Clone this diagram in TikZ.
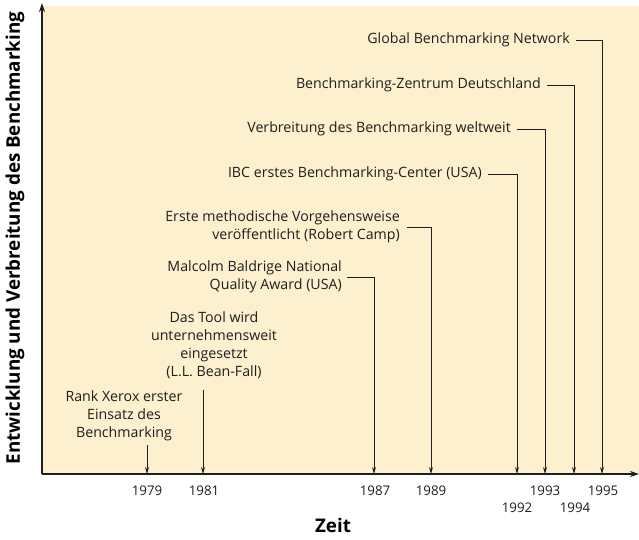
\documentclass[tikz,border=0pt]{standalone}
\usepackage{fontspec}
\setmainfont{Open Sans}
\usetikzlibrary{arrows.meta}
\definecolor{bgcream}{RGB}{253,240,207}
\definecolor{ink}{RGB}{30,30,30}
\tikzset{
  lbl/.style={inner sep=0pt, font=\fontsize{14.2}{18}\selectfont, text=ink},
  yr/.style={inner sep=0pt, font=\fontsize{13.3}{16}\selectfont, text=ink},
  axis/.style={draw=ink, line width=1.3pt, -{Stealth[length=9pt,width=6pt]}},
  conn/.style={draw=ink, line width=0.9pt, -{Stealth[length=7pt,width=4pt]}},
  ttl/.style={inner sep=0pt, font=\fontsize{18.8}{20}\selectfont\bfseries}
}
\begin{document}
\begin{tikzpicture}[x=1pt,y=-1pt]
\useasboundingbox (0,0) rectangle (639,539);
\fill[bgcream] (42,6) rectangle (639,474);
\coordinate (O) at (42,474);
\coordinate (XE) at (639,474);
\coordinate (YE) at (42,3);
\draw[axis] (O) -- (XE);
\draw[axis] (O) -- (YE);
\node[ttl, rotate=90] (ylab) at (15,238) {Entwicklung und Verbreitung des Benchmarking};
\node[ttl] (xlab) at (333,525) {Zeit};
% year coordinates
\foreach \n/\x in {a/147,b/203,c/374,d/431,e/517,f/545,g/574,h/602}{
  \coordinate (t\n) at (\x,474);
}
\node[yr] (y1979) at (147,491) {1979};
\node[yr] (y1981) at (204,491) {1981};
\node[yr] (y1987) at (375,491) {1987};
\node[yr] (y1989) at (431,491) {1989};
\node[yr] (y1993) at (545,491) {1993};
\node[yr] (y1995) at (603,491) {1995};
\node[yr] (y1992) at (517,508) {1992};
\node[yr] (y1994) at (575,508) {1994};
% labels
\node[lbl, anchor=east] (l8) at (570,40) {Global Benchmarking Network};
\node[lbl, anchor=east] (l7) at (541,85) {Benchmarking-Zentrum Deutschland};
\node[lbl, anchor=east] (l6) at (511,129) {Verbreitung des Benchmarking weltweit};
\node[lbl, anchor=east] (l5) at (482,174) {IBC erstes Benchmarking-Center (USA)};
\node[lbl, anchor=east, align=right] (l4) at (400,227) {Erste methodische Vorgehensweise\\ver\"offentlicht (Robert Camp)};
\node[lbl, anchor=east, align=right] (l3) at (342,277) {Malcolm Baldrige National\\Quality Award (USA)};
\node[lbl, align=center] (l2) at (214,345) {Das Tool wird\\unternehmensweit\\eingesetzt\\(L.L. Bean-Fall)};
\node[lbl, align=center] (l1) at (124,416) {Rank Xerox erster\\Einsatz des\\Benchmarking};
% connectors
\draw[conn] ([xshift=6pt]l8.east) -| (th);
\draw[conn] ([xshift=6pt]l7.east) -| (tg);
\draw[conn] ([xshift=6pt]l6.east) -| (tf);
\draw[conn] ([xshift=6pt]l5.east) -| (te);
\draw[conn] ([xshift=7pt]l4.east) -| (td);
\draw[conn] ([xshift=5pt]l3.east) -| (tc);
\coordinate (s2) at (203,390);
\coordinate (s1) at (147,445);
\draw[conn] (s2) -- (tb);
\draw[conn] (s1) -- (ta);
\end{tikzpicture}
\end{document}
